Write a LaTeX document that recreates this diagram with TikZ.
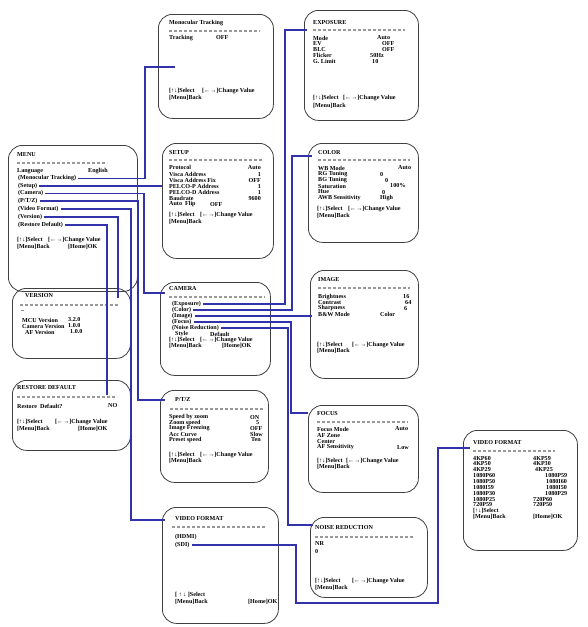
\documentclass[tikz,border=0pt]{standalone}
\usepackage{fontspec}
\setmainfont{Liberation Serif}
\definecolor{wire}{RGB}{50,50,170}
\newcommand{\selkey}{[↑↓]Select}
\newcommand{\chgkey}{[←→]Change Value}
\newcommand{\backkey}{[Menu]Back}
\newcommand{\okkey}{[Home]OK}
\tikzset{
  screen/.style={draw=black!75,line width=0.8pt,rounded corners=14pt,anchor=north west,inner sep=0pt},
  txt/.style={anchor=west,inner sep=0pt},
  val/.style={anchor=east,inner sep=0pt},
  sep/.style={draw=black!40,line width=1.1pt,dash pattern=on 3pt off 2pt},
  link/.style={draw=wire,line width=1.1pt,shorten <=2pt}
}

\begin{document}
\begin{tikzpicture}[x=1pt,y=-1pt,font=\fontsize{6.1}{7}\selectfont\bfseries]
  \useasboundingbox (0,0) rectangle (588,627);
  \node[screen,minimum width=129pt,minimum height=146pt] (bMenu) at (8,145) {};
  \node[screen,minimum width=115pt,minimum height=104pt] (bMono) at (158,14) {};
  \node[screen,minimum width=114pt,minimum height=110pt] (bExpo) at (304,10) {};
  \node[screen,minimum width=111pt,minimum height=115pt] (bSetup) at (162,143) {};
  \node[screen,minimum width=110pt,minimum height=99pt] (bColor) at (308,143) {};
  \node[screen,minimum width=118pt,minimum height=70pt] (bVer) at (12,288) {};
  \node[screen,minimum width=118pt,minimum height=70pt] (bRest) at (12,380) {};
  \node[screen,minimum width=110pt,minimum height=93pt] (bCam) at (160,282) {};
  \node[screen,minimum width=108pt,minimum height=108pt] (bImage) at (310,270) {};
  \node[screen,minimum width=108pt,minimum height=92pt] (bPtz) at (160,390) {};
  \node[screen,minimum width=110pt,minimum height=87pt] (bFocus) at (308,405) {};
  \node[screen,minimum width=114pt,minimum height=120pt] (bVfR) at (463,430) {};
  \node[screen,minimum width=116pt,minimum height=116pt] (bVfB) at (162,507) {};
  \node[screen,minimum width=117pt,minimum height=80pt] (bNr) at (310,517) {};

  \node[txt] (menuT) at (17,155) {MENU};
  \draw[sep] (17,163) -- (107,163);
  \node[txt] (menuL) at (17,171) {Language};
  \node[txt] (menuLv) at (88,171) {English};
  \node[txt] (mMono) at (18,178.5) {(Monocular Tracking)};
  \node[txt] (mSetup) at (18,186) {(Setup)};
  \node[txt] (mCam) at (18,193.5) {(Camera)};
  \node[txt] (mPtz) at (18,201) {(P/T/Z)};
  \node[txt] (mVf) at (18,209) {(Video Format)};
  \node[txt] (mVer) at (18,217) {(Version)};
  \node[txt] (mRest) at (18,225) {(Restore Default)};
  \node[txt] (menuS) at (17,240) {\selkey};
  \node[txt] (menuC) at (48,240) {\chgkey};
  \node[txt] (menuB) at (17,247) {\backkey};
  \node[txt] (menuO) at (68,247) {\okkey};

  \node[txt] (monoT) at (169,23) {Monocular Tracking};
  \draw[sep] (169,31) -- (260,31);
  \node[txt] (monoR) at (169,38) {Tracking};
  \node[txt] (monoV) at (216,38) {OFF};
  \node[txt] (monoS) at (169,91) {\selkey};
  \node[txt] (monoC) at (202,91) {\chgkey};
  \node[txt] (monoB) at (169,98) {\backkey};

  \node[txt] (expoT) at (313,23) {EXPOSURE};
  \draw[sep] (313,30) -- (405,30);
  \foreach \lbl/\vl/\vx [count=\i] in {Mode/Auto/377,EV/OFF/382,BLC/OFF/382,Flicker/50Hz/370,G. Limit/10/372}{
    \node[txt] (expoR\i) at (313,{32.2+5.8*\i}) {\lbl};
    \node[txt] (expoV\i) at (\vx,{32.2+5.8*\i}) {\vl};
  }
  \node[txt] (expoS) at (313,98) {\selkey};
  \node[txt] (expoC) at (343,98) {\chgkey};
  \node[txt] (expoB) at (313,106) {\backkey};

  \node[txt] (setupT) at (169,153) {SETUP};
  \draw[sep] (169,160) -- (262,160);
  \foreach \lbl/\vl [count=\i] in {Protocol/Auto,Visca Address/1,Visca Address Fix/OFF,PELCO-P Address/1,PELCO-D Address/1,Baudrate/9600}{
    \node[txt] (setupR\i) at (169,{161.8+6.1*\i}) {\lbl};
    \node[val] (setupV\i) at (261,{161.8+6.1*\i}) {\vl};
  }
  \node[txt] (setupR7) at (169,204.5) {Auto\ \ Flip};
  \node[txt] (setupV7) at (210,204.5) {OFF};
  \node[txt] (setupS) at (169,215) {\selkey};
  \node[txt] (setupC) at (200,215) {\chgkey};
  \node[txt] (setupB) at (169,222) {\backkey};

  \node[txt] (colorT) at (318,153) {COLOR};
  \draw[sep] (318,160) -- (410,160);
  \foreach \lbl/\vl/\vx [count=\i] in {WB Mode/Auto/398,RG Tuning/0/380,BG Tuning/0/385,Saturation/100\%/390,Hue/0/382,AWB Sensitivity/High/380}{
    \node[txt] (colorR\i) at (318,{162+6*\i}) {\lbl};
    \node[txt] (colorV\i) at (\vx,{162+6*\i}) {\vl};
  }
  \node[txt] (colorS) at (317,209) {\selkey};
  \node[txt] (colorC) at (348,209) {\chgkey};
  \node[txt] (colorB) at (317,216) {\backkey};

  \node[txt] (verT) at (25,296) {VERSION};
  \draw[sep] (20,305) -- (118,305);
  \node[txt] (verD) at (21,312) {--};
  \foreach \lbl/\vl/\lx/\vx [count=\i] in {MCU Version/3.2.0/22/68,Camera Version/1.0.0/22/68,AF Version/1.0.0/25/70}{
    \node[txt] (verR\i) at (\lx,{314+6*\i}) {\lbl};
    \node[txt] (verV\i) at (\vx,{314+6*\i}) {\vl};
  }

  \node[txt] (restT) at (17,388) {RESTORE DEFAULT};
  \draw[sep] (17,397) -- (117,397);
  \node[txt] (restR) at (17,406) {Restore\ \ Default?};
  \node[txt] (restV) at (108,406) {NO};
  \node[txt] (restS) at (17,422) {\selkey};
  \node[txt] (restC) at (55,422) {\chgkey};
  \node[txt] (restB) at (17,429) {\backkey};
  \node[txt] (restO) at (78,429) {\okkey};

  \node[txt] (camT) at (169,289) {CAMERA};
  \draw[sep] (169,297) -- (265,297);
  \node[txt] (cExpo) at (172,304) {(Exposure)};
  \node[txt] (cColor) at (172,310) {(Color)};
  \node[txt] (cImage) at (172,316) {(Image)};
  \node[txt] (cFocus) at (172,322) {(Focus)};
  \node[txt] (cNr) at (172,328) {(Noise Reduction)};
  \node[txt] (camR) at (175,334) {Style};
  \node[txt] (camV) at (210,334) {Default};
  \node[txt] (camS) at (169,340) {\selkey};
  \node[txt] (camC) at (200,340) {\chgkey};
  \node[txt] (camB) at (169,346) {\backkey};
  \node[txt] (camO) at (222,346) {\okkey};

  \node[txt] (imageT) at (318,280) {IMAGE};
  \draw[sep] (318,288) -- (410,288);
  \foreach \lbl/\vl/\vx [count=\i] in {Brightness/16/403,Contrast/64/405,Sharpness/6/404,B\&W Mode/Color/380}{
    \node[txt] (imageR\i) at (318,{291.3+5.7*\i}) {\lbl};
    \node[txt] (imageV\i) at (\vx,{291.3+5.7*\i}) {\vl};
  }
  \node[txt] (imageS) at (317,345) {\selkey};
  \node[txt] (imageC) at (352,345) {\chgkey};
  \node[txt] (imageB) at (317,351) {\backkey};

  \node[txt] (ptzT) at (175,400) {P/T/Z};
  \draw[sep] (170,409) -- (265,409);
  \foreach \lbl/\vl/\vx [count=\i] in {Speed by zoom/ON/250,Zoom speed/5/256,Image Freezing/OFF/250,Acc Curve/Slow/250,Preset speed/Ten/251}{
    \node[txt] (ptzR\i) at (169,{411.4+5.7*\i}) {\lbl};
    \node[txt] (ptzV\i) at (\vx,{411.4+5.7*\i}) {\vl};
  }
  \node[txt] (ptzS) at (169,455) {\selkey};
  \node[txt] (ptzC) at (200,455) {\chgkey};
  \node[txt] (ptzB) at (169,461) {\backkey};

  \node[txt] (focusT) at (317,414) {FOCUS};
  \draw[sep] (317,422) -- (408,422);
  \node[txt] (focusR1) at (317,429) {Focus Mode};
  \node[txt] (focusV1) at (395,429) {Auto};
  \node[txt] (focusR2) at (317,436) {AF Zone};
  \node[txt] (focusR3) at (317,442) {Center};
  \node[txt] (focusR4) at (317,447.5) {AF Sensitivity};
  \node[txt] (focusV4) at (397,447.5) {Low};
  \node[txt] (focusS) at (317,461) {\selkey};
  \node[txt] (focusC) at (346,461) {\chgkey};
  \node[txt] (focusB) at (317,467) {\backkey};

  \node[txt] (vfrT) at (473,443) {VIDEO FORMAT};
  \draw[sep] (473,451) -- (555,451);
  \foreach \lbl/\vl/\vx [count=\i] in {4KP60/4KP59/533,4KP50/4KP30/533,4KP29/4KP25/535,1080P60/1080P59/545,1080P50/1080I60/546,1080I59/1080I50/546,1080P30/1080P29/545,1080P25/720P60/533,720P59/720P50/533}{
    \node[txt] (vfrR\i) at (473,{452.2+5.85*\i}) {\lbl};
    \node[txt] (vfrV\i) at (\vx,{452.2+5.85*\i}) {\vl};
  }
  \node[txt] (vfrS) at (473,511) {\selkey};
  \node[txt] (vfrB) at (473,517) {\backkey};
  \node[txt] (vfrO) at (533,517) {\okkey};

  \node[txt] (vfbT) at (175,519) {VIDEO FORMAT};
  \draw[sep] (172,527) -- (265,527);
  \node[txt] (vHdmi) at (175,537) {(HDMI)};
  \node[txt] (vSdi) at (175,545) {(SDI)};
  \node[txt] (vfbS) at (175,595) {[ ↑ ↓ ]Select};
  \node[txt] (vfbB) at (175,602) {\backkey};
  \node[txt] (vfbO) at (248,602) {\okkey};

  \node[txt] (nrT) at (315,528) {NOISE REDUCTION};
  \draw[sep] (315,537) -- (413,537);
  \node[txt] (nrR) at (315,543) {NR};
  \node[txt] (nrV) at (315,551) {0};
  \node[txt] (nrS) at (315,581) {\selkey};
  \node[txt] (nrC) at (352,581) {\chgkey};
  \node[txt] (nrB) at (315,588) {\backkey};

  \coordinate (monoIn) at (175,67);
  \coordinate (setupIn) at (162,186);
  \coordinate (camIn) at (165,293);
  \coordinate (ptzIn) at (165,400);
  \coordinate (vfbIn) at (165,520);
  \coordinate (verIn) at (118,298);
  \coordinate (restIn) at (107,395);
  \coordinate (expoIn) at (307,30);
  \coordinate (colorIn) at (312,156);
  \coordinate (imageIn) at (312,316);
  \coordinate (focusIn) at (308,413);
  \coordinate (nrIn) at (313,525);
  \coordinate (vfrIn) at (470,448);

  \draw[link] (mMono.east) -| ([xshift=-30pt]monoIn) -- (monoIn);
  \draw[link] (mSetup.east) -- (setupIn);
  \draw[link] (mCam.east) -| ([xshift=-21pt]camIn) -- (camIn);
  \draw[link] (mPtz.east) -| ([xshift=-27pt]ptzIn) -- (ptzIn);
  \draw[link] (mVf.east) -| ([xshift=-34pt]vfbIn) -- (vfbIn);
  \draw[link] (mVer.east) -| (verIn);
  \draw[link] (mRest.east) -| (restIn);
  \draw[link] (cExpo.east) -| ([xshift=-22pt]expoIn) -- (expoIn);
  \draw[link] (cColor.east) -| ([xshift=-20pt]colorIn) -- (colorIn);
  \draw[link] (cImage.east) -- (imageIn);
  \draw[link] (cFocus.east) -| ([xshift=-17pt]focusIn) -- (focusIn);
  \draw[link] (cNr.east) -| ([xshift=-25pt]nrIn) -- (nrIn);
  \draw[link] (vSdi.east) -| (296,603) -| ([xshift=-32pt]vfrIn) -- (vfrIn);
\end{tikzpicture}
\end{document}
